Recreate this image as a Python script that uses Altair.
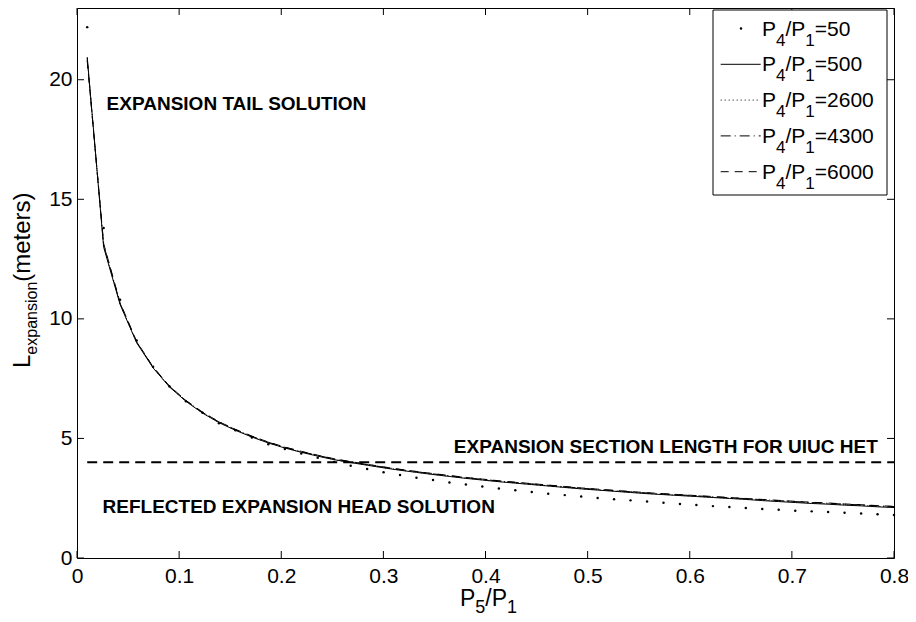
import altair as alt
import pandas as pd

# ---------------- data ----------------
x_vals = [0.0100, 0.0261, 0.0422, 0.0584, 0.0745, 0.0906, 0.1067, 0.1229, 0.1390, 0.1551,
          0.1712, 0.1873, 0.2035, 0.2196, 0.2357, 0.2518, 0.2680, 0.2841, 0.3002, 0.3163,
          0.3324, 0.3486, 0.3647, 0.3808, 0.3969, 0.4131, 0.4292, 0.4453, 0.4614, 0.4776,
          0.4937, 0.5098, 0.5259, 0.5420, 0.5582, 0.5743, 0.5904, 0.6065, 0.6227, 0.6388,
          0.6549, 0.6710, 0.6871, 0.7033, 0.7194, 0.7355, 0.7516, 0.7678, 0.7839, 0.8000]

l_50 = [22.2, 13.8, 10.8, 9.1, 8.0, 7.17, 6.55, 6.07, 5.63, 5.34,
        5.04, 4.76, 4.56, 4.37, 4.19, 4.02, 3.86, 3.72, 3.59, 3.47,
        3.36, 3.26, 3.16, 3.07, 2.99, 2.91, 2.83, 2.76, 2.69, 2.63,
        2.57, 2.51, 2.46, 2.41, 2.36, 2.31, 2.26, 2.22, 2.17, 2.13,
        2.09, 2.05, 2.02, 1.98, 1.95, 1.92, 1.89, 1.86, 1.83, 1.80]

l_500 = [20.95, 13.0, 10.6, 9.0, 7.95, 7.15, 6.55, 6.06, 5.66, 5.34,
         5.06, 4.81, 4.60, 4.42, 4.26, 4.11, 3.99, 3.88, 3.77, 3.67,
         3.58, 3.49, 3.41, 3.33, 3.26, 3.19, 3.13, 3.07, 3.01, 2.95,
         2.89, 2.84, 2.79, 2.74, 2.69, 2.65, 2.61, 2.57, 2.53, 2.49,
         2.45, 2.40, 2.36, 2.32, 2.28, 2.25, 2.21, 2.18, 2.14, 2.11]

l_2600 = [20.9, 13.05, 10.62, 9.02, 7.96, 7.16, 6.56, 6.07, 5.67, 5.35,
          5.07, 4.82, 4.61, 4.43, 4.27, 4.12, 4.00, 3.89, 3.78, 3.68,
          3.59, 3.50, 3.42, 3.34, 3.27, 3.20, 3.14, 3.08, 3.02, 2.96,
          2.90, 2.85, 2.80, 2.75, 2.70, 2.66, 2.62, 2.58, 2.54, 2.50,
          2.46, 2.42, 2.38, 2.34, 2.30, 2.27, 2.23, 2.20, 2.16, 2.13]

l_4300 = [20.85, 13.1, 10.65, 9.04, 7.98, 7.18, 6.58, 6.09, 5.69, 5.37,
          5.09, 4.84, 4.63, 4.45, 4.29, 4.14, 4.02, 3.91, 3.80, 3.70,
          3.61, 3.52, 3.44, 3.36, 3.29, 3.22, 3.16, 3.10, 3.04, 2.98,
          2.92, 2.87, 2.82, 2.77, 2.72, 2.68, 2.64, 2.60, 2.56, 2.52,
          2.48, 2.44, 2.40, 2.36, 2.32, 2.29, 2.25, 2.22, 2.18, 2.15]

l_6000 = [20.8, 13.15, 10.68, 9.06, 7.99, 7.19, 6.59, 6.10, 5.70, 5.38,
          5.10, 4.85, 4.64, 4.46, 4.30, 4.15, 4.03, 3.92, 3.81, 3.71,
          3.62, 3.53, 3.45, 3.37, 3.30, 3.23, 3.17, 3.11, 3.05, 2.99,
          2.93, 2.88, 2.83, 2.78, 2.73, 2.69, 2.65, 2.61, 2.57, 2.53,
          2.49, 2.45, 2.41, 2.37, 2.33, 2.30, 2.26, 2.23, 2.19, 2.16]

ratio_labels = ["50", "500", "2600", "4300", "6000"]
x_ticks = [0, 0.1, 0.2, 0.3, 0.4, 0.5, 0.6, 0.7, 0.8]
y_ticks = [0, 5, 10, 15, 20]
UIUC_LENGTH = 4.0

ann_text = ["EXPANSION TAIL SOLUTION",
            "EXPANSION SECTION LENGTH FOR UIUC HET",
            "REFLECTED EXPANSION HEAD SOLUTION"]
ann_x = [0.029, 0.369, 0.025]
ann_y = [19.0, 4.63, 2.13]

# ---------------- layout / style ----------------
FONT = "Liberation Sans"
W, H = 817, 550
X_DOMAIN = [0, 0.8]
Y_DOMAIN = [0, 23]
TICK = 7

xs = alt.Scale(domain=X_DOMAIN, nice=False, zero=False)
ys = alt.Scale(domain=Y_DOMAIN, nice=False, zero=False)
X_AXIS = alt.Axis(values=x_ticks, format="~g", title=None, ticks=False, tickSize=0,
                  domain=False, grid=False, labelFont=FONT, labelFontSize=21,
                  labelColor="black", labelPadding=7, labelFlush=False)
Y_AXIS = alt.Axis(values=y_ticks, format="~g", title=None, ticks=False, tickSize=0,
                  domain=False, grid=False, labelFont=FONT, labelFontSize=21,
                  labelColor="black", labelPadding=5)
ONE = pd.DataFrame({"k": [0]})

# Arial/Liberation Sans advance widths (em)
CW = {"P": .667, "/": .278, "=": .584, "(": .333, ")": .333, "L": .556,
      "e": .556, "x": .5, "p": .556, "a": .556, "n": .556, "s": .5, "i": .222,
      "o": .556, "m": .833, "t": .278, "r": .333}
for d in "0123456789":
    CW[d] = .556


def tw(s, size):
    return sum(CW.get(c, .556) for c in s) * size


def XQ(field):
    return alt.X(field, scale=xs, axis=X_AXIS)


def YQ(field):
    return alt.Y(field, scale=ys, axis=Y_AXIS)


def text_h(parts, x0, y0):
    out = []
    x = x0
    for s, size, dy in parts:
        out.append(alt.Chart(ONE).mark_text(
            text=s, font=FONT, fontSize=size, align="left", baseline="alphabetic",
            color="black").encode(x=alt.value(x), y=alt.value(y0 + dy)))
        x += tw(s, size)
    return out


def text_v(parts, x0, y0):
    out = []
    y = y0
    for s, size, dx in parts:
        out.append(alt.Chart(ONE).mark_text(
            text=s, font=FONT, fontSize=size, align="left", baseline="alphabetic",
            angle=270, color="black").encode(x=alt.value(x0 + dx), y=alt.value(y)))
        y -= tw(s, size)
    return out


def curve(vals, dash=None):
    df = pd.DataFrame({"x": x_vals, "y": vals})
    props = dict(color="black", strokeWidth=1, clip=True)
    if dash:
        props["strokeDash"] = dash
    return alt.Chart(df).mark_line(**props).encode(x=XQ("x:Q"), y=YQ("y:Q"))


dots = alt.Chart(pd.DataFrame({"x": x_vals, "y": l_50})).mark_point(
    filled=True, size=6, color="black", opacity=1, shape="circle").encode(
    x=XQ("x:Q"), y=YQ("y:Q"))

styles = {"500": None, "2600": [1, 3], "4300": [10, 4, 1, 4], "6000": [8, 6]}
curves = [curve(l_500, styles["500"]), curve(l_2600, styles["2600"]),
          curve(l_4300, styles["4300"]), curve(l_6000, styles["6000"])]

uiuc = alt.Chart(pd.DataFrame({"x": [x_vals[0]], "x2": [x_vals[-1]], "y": [UIUC_LENGTH]})).mark_rule(
    color="black", strokeWidth=2, strokeDash=[10, 6]).encode(
    x=XQ("x:Q"), x2="x2:Q", y=YQ("y:Q"))

ann = alt.Chart(pd.DataFrame({"x": ann_x, "y": ann_y, "t": ann_text})).mark_text(
    font=FONT, fontSize=19, fontWeight="bold", align="left", baseline="middle",
    color="black").encode(x=XQ("x:Q"), y=YQ("y:Q"), text="t:N")

# inward ticks on all four sides
xt = pd.DataFrame({"x": x_ticks})
yt = pd.DataFrame({"y": y_ticks})
tick_layers = [
    alt.Chart(xt).mark_rule(color="black", strokeWidth=1).encode(
        x=XQ("x:Q"), y=alt.value(H), y2=alt.value(H - TICK)),
    alt.Chart(xt).mark_rule(color="black", strokeWidth=1).encode(
        x=XQ("x:Q"), y=alt.value(0), y2=alt.value(TICK)),
    alt.Chart(yt).mark_rule(color="black", strokeWidth=1).encode(
        y=YQ("y:Q"), x=alt.value(0), x2=alt.value(TICK)),
    alt.Chart(yt).mark_rule(color="black", strokeWidth=1).encode(
        y=YQ("y:Q"), x=alt.value(W), x2=alt.value(W - TICK)),
]

# axis titles with subscripts
xtitle = text_h([("P", 23, 0), ("5", 18, 7), ("/P", 23, 0), ("1", 18, 7)], 383, 598)
ytitle = text_v([("L", 24, 0), ("expansion", 16, 6.6), ("(meters)", 24, 0)], -47, 360)

# legend
LX0, LX1, LY0, LY1 = 636, 810, 2, 187
legend = [alt.Chart(ONE).mark_rect(fill="white", stroke="black", strokeWidth=1).encode(
    x=alt.value(LX0), x2=alt.value(LX1), y=alt.value(LY0), y2=alt.value(LY1))]
row_y = [20.5, 56.3, 92.1, 127.9, 163.7]
for i, lab in enumerate(ratio_labels):
    cy = row_y[i]
    if lab == "50":
        legend.append(alt.Chart(ONE).mark_point(
            filled=True, size=6, color="black", opacity=1, shape="circle").encode(
            x=alt.value(LX0 + 28), y=alt.value(cy)))
    else:
        props = dict(color="black", strokeWidth=1)
        if styles[lab]:
            props["strokeDash"] = styles[lab]
        legend.append(alt.Chart(ONE).mark_rule(**props).encode(
            x=alt.value(LX0 + 7.7), x2=alt.value(LX0 + 47.7), y=alt.value(cy)))
    legend += text_h([("P", 21, 0), ("4", 17, 10), ("/P", 21, 0), ("1", 17, 10),
                      ("=" + lab, 21, 0)], LX0 + 49, cy + 7)

chart = alt.layer(dots, *curves, uiuc, ann, *tick_layers, *xtitle, *ytitle, *legend).properties(
    width=W, height=H,
    autosize=alt.AutoSizeParams(type="none"),
    padding={"left": 69, "top": 0, "right": 14, "bottom": 60},
    background="white",
).configure_view(stroke="black", strokeWidth=1)

chart.save("out.html", embed_options={"renderer": "svg", "actions": False})
